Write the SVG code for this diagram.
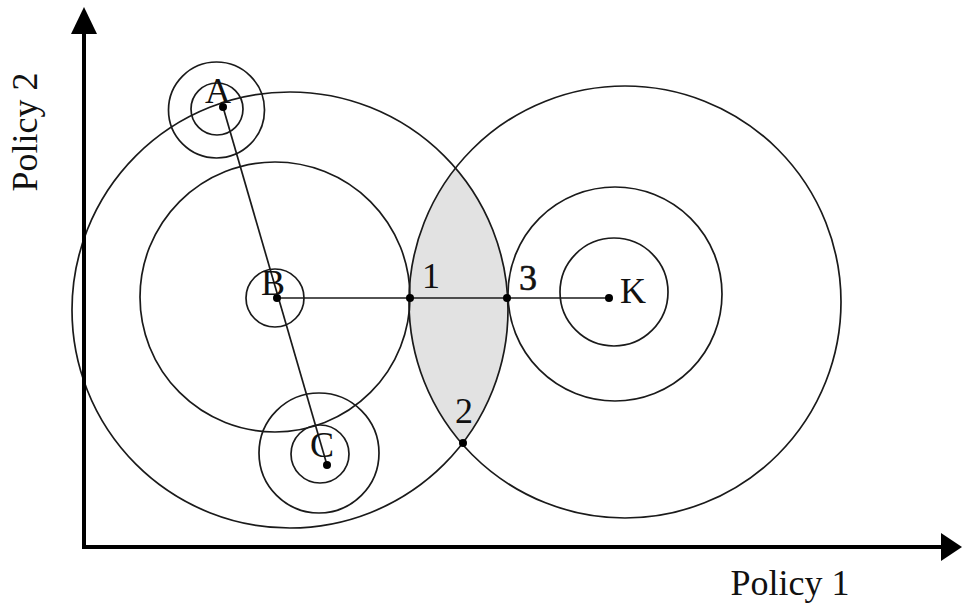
<svg xmlns="http://www.w3.org/2000/svg" width="962" height="604" viewBox="0 0 962 604">
<style>
.c{fill:none;stroke:#1a1a1a;stroke-width:1.7}
.ln{stroke:#1a1a1a;stroke-width:1.7}
.ax{stroke:#000;stroke-width:4}
.d{fill:#000}
.t{font-family:"Liberation Serif","Times New Roman",serif;font-size:36px;fill:#111;text-anchor:middle}
.al{font-family:"Liberation Serif","Times New Roman",serif;font-size:36px;fill:#111;text-anchor:middle}
</style>
<rect width="962" height="604" fill="#fff"/>
<g id="lens">
<path d="M455.4,168 A216,216 0 0 0 462,444 A218,218 0 0 0 455.4,168 Z" fill="#e2e2e2" stroke="none"/>
</g>
<g id="node-B">
<circle class="c" cx="275" cy="298" r="29"/>
<circle class="c" cx="275" cy="297" r="135"/>
<circle class="c" cx="290" cy="310" r="218"/>
</g>
<g id="node-K">
<circle class="c" cx="614" cy="292" r="54"/>
<circle class="c" cx="615" cy="294" r="107"/>
<circle class="c" cx="625" cy="302" r="216"/>
</g>
<g id="node-A">
<circle class="c" cx="217" cy="109" r="26"/>
<circle class="c" cx="216.5" cy="110" r="48"/>
</g>
<g id="node-C">
<circle class="c" cx="320" cy="454" r="29"/>
<circle class="c" cx="319" cy="453" r="60"/>
</g>
<g id="connectors">
<line class="ln" x1="223" y1="107" x2="327" y2="465"/>
<line class="ln" x1="277" y1="298" x2="609" y2="298"/>
</g>
<g id="points">
<circle class="d" cx="223" cy="107" r="4"/>
<circle class="d" cx="277" cy="298" r="4"/>
<circle class="d" cx="327" cy="465" r="4"/>
<circle class="d" cx="609" cy="298" r="4"/>
<circle class="d" cx="410" cy="298" r="4"/>
<circle class="d" cx="507" cy="298" r="4"/>
<circle class="d" cx="463" cy="443" r="4"/>
</g>
<g id="labels">
<text class="t" x="218" y="103">A</text>
<text class="t" x="273" y="295">B</text>
<text class="t" x="322" y="457">C</text>
<text class="t" x="633" y="303">K</text>
<text class="t" x="431" y="288">1</text>
<text class="t" x="464" y="423">2</text>
<text class="t" x="528" y="290" style="stroke:#111;stroke-width:0.6">3</text>
</g>
<g id="axes">
<line class="ax" x1="84" y1="549" x2="84" y2="30"/>
<polygon points="84,7 71,34 97,34" fill="#000"/>
<line class="ax" x1="82" y1="547" x2="942" y2="547"/>
<polygon points="962,547 941,533 941,561" fill="#000"/>
<text class="al" x="790" y="595">Policy 1</text>
<text class="al" transform="translate(37,132) rotate(-90)">Policy 2</text>
</g>
</svg>
